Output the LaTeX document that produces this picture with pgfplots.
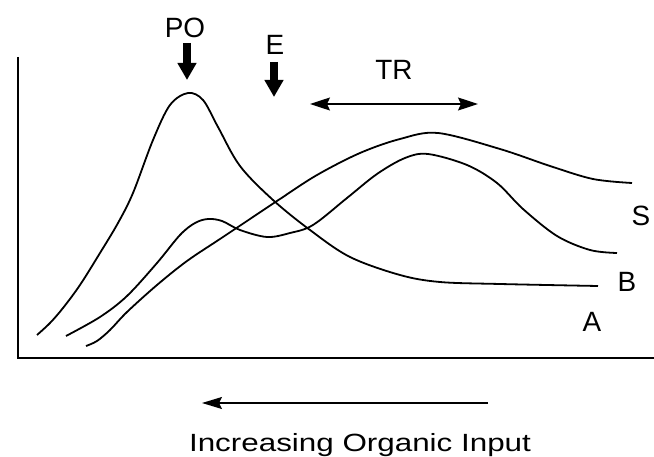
\documentclass[border=0pt]{standalone}
\usepackage{pgfplots}
\pgfplotsset{compat=1.18}
\usepackage{fontspec}
\setmainfont{Liberation Sans}
\usetikzlibrary{arrows.meta}
\begin{document}
\begin{tikzpicture}
\path[use as bounding box] (0,0) rectangle (654bp,457bp);
\begin{axis}[
  x=1bp, y=1bp, xmin=0, xmax=654, ymin=0, ymax=457,
  hide axis, clip=false, anchor=origin, at={(0,0)},
]
% axes
\addplot[black, line width=2bp, line join=miter] coordinates {(18,400) (18,99) (654,99)};
% curve A (sharp PO peak)
\addplot[black, line width=1.8bp, smooth, tension=0.55] coordinates {
(37,122) (50,134) (63,149) (80,172) (100,204) (118,234) (133,264) (153,317)
(170,352) (188,364) (203,357) (218,330) (240,291) (273,257)
(310,227) (350,200) (400,182) (440,175) (500,173) (598,171)};
% curve B
\addplot[black, line width=1.8bp, smooth, tension=0.55] coordinates {
(66,121) (100,140) (127,161) (157,194) (180,222) (195,234) (208,238) (222,236)
(240,227) (267,220) (290,224) (313,232) (347,259) (377,283)
(405,299) (428,303) (467,292) (497,274) (523,248) (557,221) (590,207) (617,204)};
% curve S
\addplot[black, line width=1.8bp, smooth, tension=0.55] coordinates {
(86,111) (97,116) (110,127) (127,145) (157,172) (187,196) (220,218) (250,238) (280,258)
(317,282) (360,304) (400,318) (438,324) (500,308) (550,291) (593,278) (632,274)};
% arrows
\addplot[black, line width=8bp, -{Triangle[length=17bp,width=18bp]}] coordinates {(187,414) (187,377)};
\addplot[black, line width=8bp, -{Triangle[length=17bp,width=18bp]}] coordinates {(274,395) (274,360)};
\addplot[black, line width=1.3bp, {Stealth[length=20bp,width=13bp,inset=3bp]}-{Stealth[length=20bp,width=13bp,inset=3bp]}] coordinates {(310,353) (478,353)};
\addplot[black, line width=1.5bp, -{Stealth[length=20bp,width=12bp,inset=3bp]}] coordinates {(488,54) (202,54)};
% labels
\node[anchor=base, font=\fontsize{28}{32}\selectfont, inner sep=0pt] at (185,419) {PO};
\node[anchor=base, font=\fontsize{28}{32}\selectfont, inner sep=0pt] at (275,402) {E};
\node[anchor=base, font=\fontsize{28}{32}\selectfont, inner sep=0pt] at (394,377) {TR};
\node[anchor=base, font=\fontsize{28}{32}\selectfont, inner sep=0pt] at (641,231) {S};
\node[anchor=base, font=\fontsize{28}{32}\selectfont, inner sep=0pt] at (627,165) {B};
\node[anchor=base, font=\fontsize{28}{32}\selectfont, inner sep=0pt] at (592,125) {A};
\node[anchor=base, font=\fontsize{25}{29}\selectfont, inner sep=0pt, xscale=1.26] at (360,5) {Increasing Organic Input};
\end{axis}
\end{tikzpicture}
\end{document}
